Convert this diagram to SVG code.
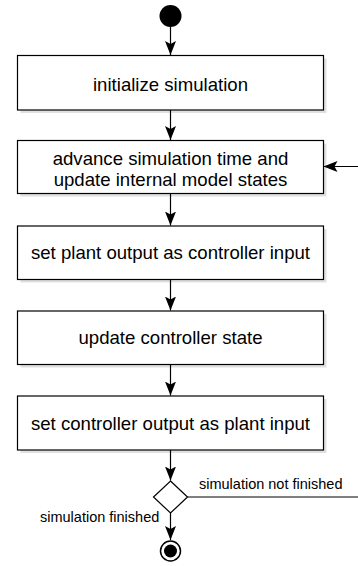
<svg xmlns="http://www.w3.org/2000/svg" width="358" height="566" viewBox="0 0 358 566">
  <style>
    .box { fill: #ffffff; stroke: #000000; stroke-width: 1.2; }
    .shadow { fill: #000000; opacity: 0.12; }
    .lbl { font-family: "Liberation Sans", Arial, sans-serif; font-size: 18.6px; fill: #000000; text-anchor: middle; }
    .edge-lbl { font-family: "Liberation Sans", Arial, sans-serif; font-size: 14.5px; fill: #000000; }
    .wire { fill: none; stroke: #000000; stroke-width: 1.2; }
  </style>
  <defs>
    <marker id="arrow" markerUnits="userSpaceOnUse" viewBox="-14 -6 15 12" refX="0" refY="0" markerWidth="15" markerHeight="12" orient="auto">
      <path d="M-14,-5.5 L0,0 L-14,5.5 L-11,0 Z" fill="#000000"/>
    </marker>
  </defs>
  <rect width="358" height="566" fill="#ffffff"/>

  <g id="connectors">
    <line class="wire" x1="170.5" y1="27" x2="170.5" y2="55" marker-end="url(#arrow)"/>
    <line class="wire" x1="170.5" y1="110" x2="170.5" y2="140" marker-end="url(#arrow)"/>
    <line class="wire" x1="170.5" y1="193.5" x2="170.5" y2="225.5" marker-end="url(#arrow)"/>
    <line class="wire" x1="170.5" y1="279.5" x2="170.5" y2="310.5" marker-end="url(#arrow)"/>
    <line class="wire" x1="170.5" y1="364.5" x2="170.5" y2="395.5" marker-end="url(#arrow)"/>
    <line class="wire" x1="170.5" y1="450" x2="170.5" y2="480.5" marker-end="url(#arrow)"/>
    <line class="wire" x1="170.5" y1="513" x2="170.5" y2="540" marker-end="url(#arrow)"/>
    <!-- loop back into the advance step -->
    <line class="wire" x1="360" y1="166.5" x2="323.5" y2="166.5" marker-end="url(#arrow)"/>
    <line class="wire" x1="187.5" y1="497" x2="360" y2="497"/>
    <text class="edge-lbl" x="199" y="489">simulation not finished</text>
    <text class="edge-lbl" x="40" y="522">simulation finished</text>
  </g>

  <g id="start">
    <circle cx="170.5" cy="16" r="11" fill="#000000"/>
  </g>

  <g id="init">
    <rect class="shadow" x="20.5" y="58.5" width="306" height="54.5"/>
    <rect class="box" x="17.5" y="55.5" width="306" height="54.5"/>
    <text class="lbl" x="170.5" y="90.5">initialize simulation</text>
  </g>

  <g id="advance">
    <rect class="shadow" x="20.5" y="143.5" width="306" height="53"/>
    <rect class="box" x="17.5" y="140.5" width="306" height="53"/>
    <text class="lbl" x="170.5" y="165">advance simulation time and</text>
    <text class="lbl" x="170.5" y="186">update internal model states</text>
  </g>

  <g id="plant-to-controller">
    <rect class="shadow" x="20.5" y="229" width="306" height="53.5"/>
    <rect class="box" x="17.5" y="226" width="306" height="53.5"/>
    <text class="lbl" x="170.5" y="259">set plant output as controller input</text>
  </g>

  <g id="controller-update">
    <rect class="shadow" x="20.5" y="314" width="306" height="53.5"/>
    <rect class="box" x="17.5" y="311" width="306" height="53.5"/>
    <text class="lbl" x="170.5" y="344">update controller state</text>
  </g>

  <g id="controller-to-plant">
    <rect class="shadow" x="20.5" y="399" width="306" height="54"/>
    <rect class="box" x="17.5" y="396" width="306" height="54"/>
    <text class="lbl" x="170.5" y="429.5">set controller output as plant input</text>
  </g>

  <g id="decision">
    <path d="M170.5,481 L187.5,497 L170.5,513 L153.5,497 Z" fill="#ffffff" stroke="#000000" stroke-width="1.2"/>
  </g>

  <g id="end">
    <circle cx="170.5" cy="551" r="10" fill="#ffffff" stroke="#000000" stroke-width="1.5"/>
    <circle cx="170.5" cy="551" r="6.5" fill="#000000"/>
  </g>
</svg>
